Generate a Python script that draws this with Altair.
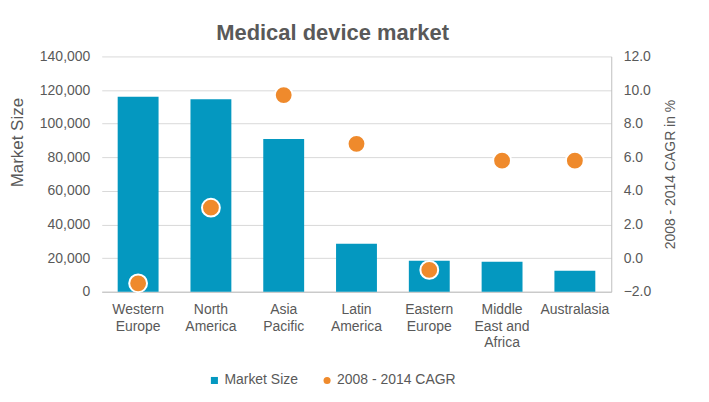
import altair as alt
import pandas as pd

regions = ["Western Europe", "North America", "Asia Pacific", "Latin America",
           "Eastern Europe", "Middle East and Africa", "Australasia"]
label_lines = [["Western", "Europe"], ["North", "America"], ["Asia", "Pacific"],
               ["Latin", "America"], ["Eastern", "Europe"], ["Middle", "East and", "Africa"],
               ["Australasia"]]
market_size = [116000, 114500, 90800, 28500, 18400, 17800, 12500]
cagr = [-1.5, 3.0, 9.7, 6.8, -0.7, 5.8, 5.8]
series_names = ["Market Size", "2008 - 2014 CAGR"]

df = pd.DataFrame({"region": regions, "size": market_size, "cagr": cagr,
                   "series": series_names[1]})

TEXT = "#595959"
BLUE = "#0498c0"
ORANGE = "#ef8a2c"
FONT = "Liberation Sans"

label_expr = " : ".join(
    f"datum.value == '{r}' ? [{', '.join(repr(s) for s in l)}]" for r, l in zip(regions, label_lines)
) + " : datum.value"

x = alt.X("region:N", sort=regions, title=None,
          axis=alt.Axis(labelAngle=0, labelExpr=label_expr, labelColor=TEXT, labelFontSize=14,
                        labelFont=FONT, labelPadding=11, ticks=False, domainColor="#bfbfbf",
                        labelLineHeight=16.5, labelBaseline="top", grid=False))

legend_cfg = dict(title=None, orient="none", direction="horizontal",
                  legendX=106, legendY=318, labelColor=TEXT,
                  labelFontSize=14, labelFont=FONT, symbolSize=50,
                  symbolStrokeWidth=0, columnPadding=22, labelOffset=3)

bars = alt.Chart(df).mark_bar(size=41, color=BLUE).encode(
    x=x,
    y=alt.Y("size:Q", title="Market Size", scale=alt.Scale(domain=[0, 140000]),
            axis=alt.Axis(format=",.0f", values=list(range(0, 140001, 20000)),
                          domain=False, ticks=False, labelColor=TEXT, labelFontSize=14,
                          labelFont=FONT, labelPadding=12, grid=True, gridColor="#d9d9d9",
                          titleColor=TEXT, titleFontSize=17, titleFont=FONT,
                          titleFontWeight="normal", titlePadding=13, titleY=86,
                          titleAlign="center")),
)

points = alt.Chart(df).mark_point(filled=True, size=320, stroke="white", strokeWidth=2,
                                  opacity=1).encode(
    x=x,
    y=alt.Y("cagr:Q", title="2008 - 2014 CAGR in %", scale=alt.Scale(domain=[-2, 12]),
            axis=alt.Axis(orient="right", format=".1f", values=[-2, 0, 2, 4, 6, 8, 10, 12],
                          domainColor="#bfbfbf", ticks=False, grid=False, labelColor=TEXT,
                          labelFontSize=14, labelFont=FONT, labelPadding=12,
                          titleColor=TEXT, titleFontSize=14, titleFont=FONT,
                          titleFontWeight="normal", titlePadding=27, titleAngle=270,
                          titleBaseline="bottom")),
    color=alt.Color("series:N", scale=alt.Scale(domain=series_names, range=[BLUE, ORANGE]),
                    legend=alt.Legend(**legend_cfg)),
    shape=alt.Shape("series:N", scale=alt.Scale(domain=series_names, range=["square", "circle"]),
                    legend=alt.Legend(**legend_cfg)),
)

chart = alt.layer(bars, points).resolve_scale(y="independent").properties(
    width=511, height=236,
    autosize=alt.AutoSizeParams(type="none"),
    padding={"left": 94, "top": 48, "right": 90, "bottom": 100},
    title=alt.TitleParams("Medical device market", fontSize=22, fontWeight="bold", color=TEXT,
                          font=FONT, offset=4, dx=-24),
).configure_view(stroke=None)

chart.save("out.html", embed_options={"renderer": "svg", "actions": False})
